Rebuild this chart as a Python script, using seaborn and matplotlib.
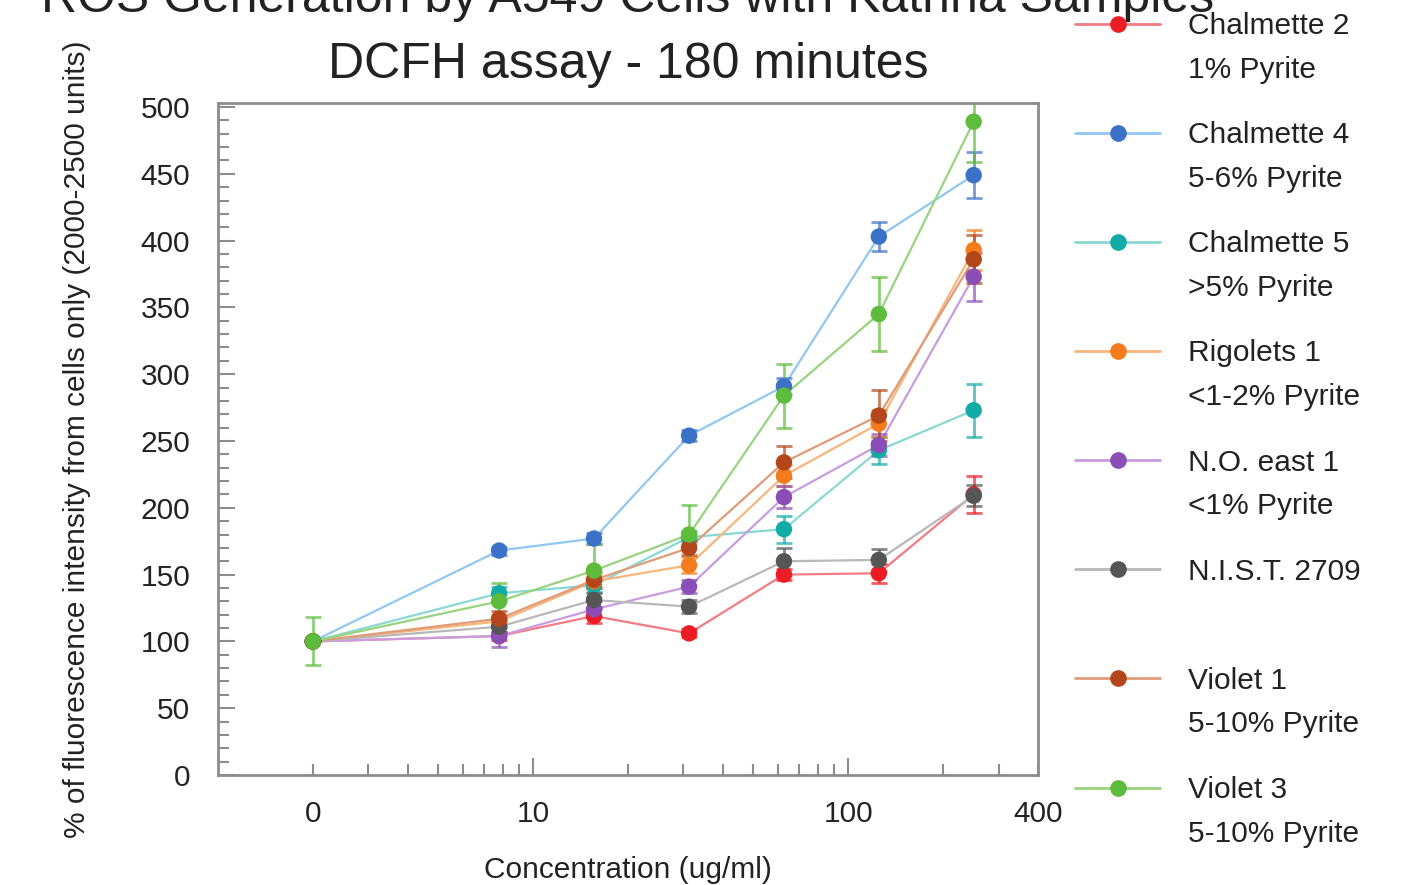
import numpy as np
import pandas as pd
import matplotlib
matplotlib.use("Agg")
import matplotlib.pyplot as plt
import matplotlib.ticker as mticker
from matplotlib.lines import Line2D
from matplotlib.transforms import Affine2D
import seaborn as sns

# Dados (o controle "0" fica em x=2 no eixo log)
conc_pos = [2, 7.8, 15.6, 31.25, 62.5, 125, 250]

samples = ["Chalmette 2", "Chalmette 4", "Chalmette 5", "Rigolets 1",
           "N.O. east 1", "N.I.S.T. 2709", "Violet 1", "Violet 3"]
pyrite = ["1% Pyrite", "5-6% Pyrite", ">5% Pyrite", "<1-2% Pyrite",
          "<1% Pyrite", "", "5-10% Pyrite", "5-10% Pyrite"]

chalmette2 = [100, 104, 119, 106, 150, 151, 210]
chalmette4 = [100, 168, 177, 254, 291, 403, 449]
chalmette5 = [100, 136, 142, 178, 184, 243, 273]
rigolets1 = [100, 115, 145, 157, 224, 263, 393]
noeast1 = [100, 104, 124, 141, 208, 247, 373]
nist2709 = [100, 111, 131, 126, 160, 161, 209]
violet1 = [100, 117, 146, 170, 234, 269, 386]
violet3 = [100, 130, 153, 180, 284, 345, 489]

err_chalmette2 = [0, 3, 5, 3, 4, 7, 14]
err_chalmette4 = [0, 3, 4, 4, 6, 11, 17]
err_chalmette5 = [0, 5, 5, 5, 10, 10, 20]
err_rigolets1 = [0, 5, 5, 6, 8, 10, 15]
err_noeast1 = [0, 8, 6, 5, 8, 8, 18]
err_nist2709 = [0, 4, 5, 5, 10, 8, 8]
err_violet1 = [0, 6, 6, 5, 12, 19, 18]
err_violet3 = [18, 14, 20, 22, 24, 28, 30]

values = [chalmette2, chalmette4, chalmette5, rigolets1, noeast1, nist2709, violet1, violet3]
errors = [err_chalmette2, err_chalmette4, err_chalmette5, err_rigolets1,
          err_noeast1, err_nist2709, err_violet1, err_violet3]

marker_colors = ["#ec1c24", "#3b71c6", "#12aca7", "#f47c1c",
                 "#8a4eb6", "#555555", "#b3461b", "#5dbc3c"]
line_colors = ["#f27c84", "#90c8f0", "#8ad8d4", "#f8b57c",
               "#c99ce0", "#b8b8b8", "#de9c78", "#98d380"]

rows = []
for s, vals in zip(samples, values):
    for x, v in zip(conc_pos, vals):
        rows.append({"sample": s, "conc": x, "value": v})
df = pd.DataFrame(rows)

sns.set_style("ticks")
plt.rcParams['font.family'] = ['Liberation Sans', 'DejaVu Sans']
FS = 21.5
TXT = "#222222"
GRAY = "#8c8c8c"

fig = plt.figure(figsize=(14.1, 8.85), dpi=100)
ax = fig.add_axes([218/1410, 1-775/885, 820/1410, 672/885])

sns.lineplot(data=df, x="conc", y="value", hue="sample", hue_order=samples,
             palette=dict(zip(samples, line_colors)), sort=False, legend=False,
             errorbar=None, linewidth=1.6, ax=ax)

for vals, err, mc in zip(values, errors, marker_colors):
    ax.errorbar(conc_pos, vals, yerr=err, fmt="none", ecolor=mc, elinewidth=2,
                capsize=6, capthick=2, alpha=0.7, zorder=2.5)

sns.scatterplot(data=df, x="conc", y="value", hue="sample", hue_order=samples,
                palette=dict(zip(samples, marker_colors)), s=140, linewidth=0,
                legend=False, ax=ax, zorder=3)

ax.set_xscale("log")
ax.set_xlim(1, 400)
ax.set_ylim(0, 503)

ax.xaxis.set_major_locator(mticker.FixedLocator([10, 100]))
ax.xaxis.set_major_formatter(mticker.FixedFormatter(["10", "100"]))
minor_x = [2, 3, 4, 5, 6, 7, 8, 9, 20, 30, 40, 50, 60, 70, 80, 90, 200, 300, 400]
minor_lbl = ["0"] + [""] * 17 + ["400"]
ax.xaxis.set_minor_locator(mticker.FixedLocator(minor_x))
ax.xaxis.set_minor_formatter(mticker.FixedFormatter(minor_lbl))
ax.yaxis.set_major_locator(mticker.MultipleLocator(50))
ax.yaxis.set_minor_locator(mticker.MultipleLocator(10))

ax.tick_params(which="both", direction="in", color=GRAY, width=1.5,
               labelsize=FS, labelcolor=TXT, top=False, right=False)
ax.tick_params(which="major", length=12)
ax.tick_params(which="minor", length=8)
ax.tick_params(axis="y", which="both", pad=20)
ax.tick_params(axis="x", which="both", pad=18)

for sp in ax.spines.values():
    sp.set_visible(True)
    sp.set_color(GRAY)
    sp.set_linewidth(2)

ax.set_xlabel("Concentration (ug/ml)", fontsize=FS, color=TXT)
ax.set_ylabel("% of fluorescence intensity from cells only (2000-2500 units)",
              fontsize=FS, color=TXT)
ax.xaxis.set_label_coords(0.5, -0.121)
ax.yaxis.set_label_coords(-0.155, 0.5)

fig.text(628/1410, 1-12/885, "ROS Generation by A549 Cells with Katrina Samples",
         ha="center", va="baseline", fontsize=36, color=TXT)
fig.text(628/1410, 1-78/885, "DCFH assay - 180 minutes",
         ha="center", va="baseline", fontsize=36, color=TXT)

handles, labels = [], []
for s, p, mc, lc in zip(samples, pyrite, marker_colors, line_colors):
    handles.append(Line2D([0], [0], color=lc, linewidth=2, marker="o",
                          markersize=11, markerfacecolor=mc, markeredgecolor=mc))
    labels.append(s)
    handles.append(Line2D([], [], linestyle="none"))
    labels.append(p)

leg = fig.legend(handles, labels, loc="upper left",
                 bbox_to_anchor=(1075/1410, 1-12/885), frameon=False,
                 fontsize=FS, handlelength=2.85, handletextpad=0.95,
                 labelspacing=0.89, borderpad=0, borderaxespad=0)
for i, t in enumerate(leg.get_texts()):
    t.set_color(TXT)
    if i % 2 == 1:
        # segunda linha mais perto do nome da amostra
        t.set_transform(t.get_transform() + Affine2D().translate(0, 11))

fig.savefig("out.png", dpi=100)
